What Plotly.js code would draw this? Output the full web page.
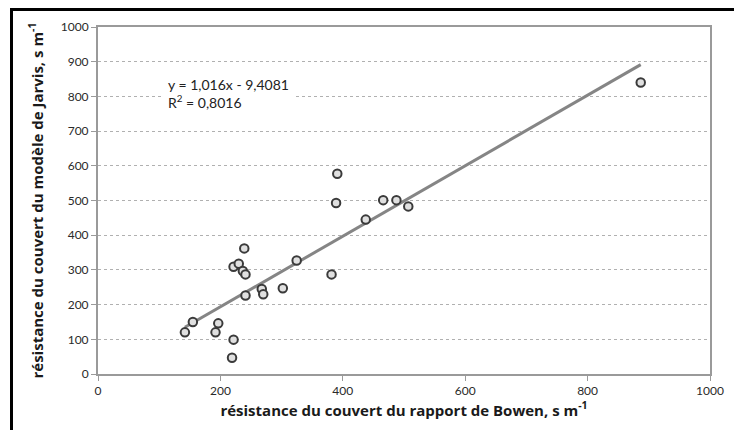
<!DOCTYPE html>
<html>
<head>
<meta charset="utf-8">
<script src="https://cdn.plot.ly/plotly-3.0.1.min.js"></script>
<style>
  html, body { margin: 0; padding: 0; background: #fff; }
  #frame { position: absolute; left: 10px; top: 8px; width: 724px; height: 422px;
           border-top: 3px solid #000; border-left: 3px solid #000; box-sizing: border-box; pointer-events: none; z-index: 5; }
  #chart { position: absolute; left: 0; top: 0; width: 734px; height: 430px; }
</style>
</head>
<body>
<div id="chart"></div>
<div id="frame"></div>
<script>
// Data
const bowenResistance = [142, 155, 192, 196.5, 221.5, 219, 221.5, 230, 236.7, 241, 239, 241,
                         267.6, 270, 302, 324.6, 381.6, 391, 389, 437.5, 466, 487.6, 507, 886.8];
const jarvisResistance = [120, 150, 120, 146, 99, 47, 309, 318, 297, 287, 362, 226,
                          245, 230, 247, 327, 287, 577, 493, 445, 501, 501, 483, 840];
const slope = 1.016;
const intercept = -9.4081;
const r2Text = "0,8016";
const eqText = "y = 1,016x - 9,4081";
const xTicks = [0, 200, 400, 600, 800, 1000];
const yTicks = [0, 100, 200, 300, 400, 500, 600, 700, 800, 900, 1000];

const xMin = Math.min(...bowenResistance);
const xMax = Math.max(...bowenResistance);
const fitX = [xMin, xMax];
const fitY = fitX.map(v => slope * v + intercept);

const font = "Lato, 'Open Sans', sans-serif";
const titleFont = "'Open Sans', Lato, sans-serif";

const traces = [
  {
    x: fitX, y: fitY, type: 'scatter', mode: 'lines',
    line: { color: '#858585', width: 3 }, hoverinfo: 'skip', showlegend: false
  },
  {
    x: bowenResistance, y: jarvisResistance, type: 'scatter', mode: 'markers',
    marker: { symbol: 'circle', size: 8.5, color: '#e0e0e0', line: { color: '#3a3a3a', width: 2 } },
    showlegend: false
  }
];

const layout = {
  width: 734, height: 430,
  margin: { l: 98, r: 24, t: 27, b: 55.5, pad: 0 },
  paper_bgcolor: '#fff', plot_bgcolor: '#fff',
  font: { family: font, size: 12, color: '#333' },
  xaxis: {
    range: [0, 1000], tickvals: xTicks, ticktext: xTicks.map(String),
    showgrid: false, zeroline: false,
    showline: true, linecolor: '#9a9a9a', linewidth: 2, mirror: true,
    ticks: 'outside', ticklen: 5, tickcolor: '#9a9a9a', tickwidth: 1,
    tickfont: { family: font, size: 12, color: '#2a2a2a' },
    title: { text: 'résistance du couvert du rapport de Bowen, s m<sup>-1</sup>',
             font: { family: titleFont, size: 15, color: '#1a1a1a', weight: 'bold' }, standoff: 4 }
  },
  yaxis: {
    range: [0, 1000], tickvals: yTicks, ticktext: yTicks.map(String),
    showgrid: true, gridcolor: '#b0b0b0', gridwidth: 1, griddash: 'dot',
    zeroline: false,
    showline: true, linecolor: '#9a9a9a', linewidth: 2, mirror: true,
    ticks: 'outside', ticklen: 5, tickcolor: '#9a9a9a', tickwidth: 1,
    tickfont: { family: font, size: 12, color: '#2a2a2a' },
    title: { text: 'résistance du couvert du modèle de Jarvis, s m<sup>-1</sup>',
             font: { family: titleFont, size: 15, color: '#1a1a1a', weight: 'bold' }, standoff: 14 }
  },
  annotations: [
    {
      xref: 'x', yref: 'y', x: 103, y: 808, xanchor: 'left', yanchor: 'middle',
      text: eqText + '<br>R<sup>2</sup> = ' + r2Text, align: 'left', showarrow: false,
      font: { family: font, size: 14, color: '#222' },
      bgcolor: '#fff', borderpad: 6
    }
  ]
};

Plotly.newPlot('chart', traces, layout, { displayModeBar: false, staticPlot: true });
</script>
</body>
</html>
